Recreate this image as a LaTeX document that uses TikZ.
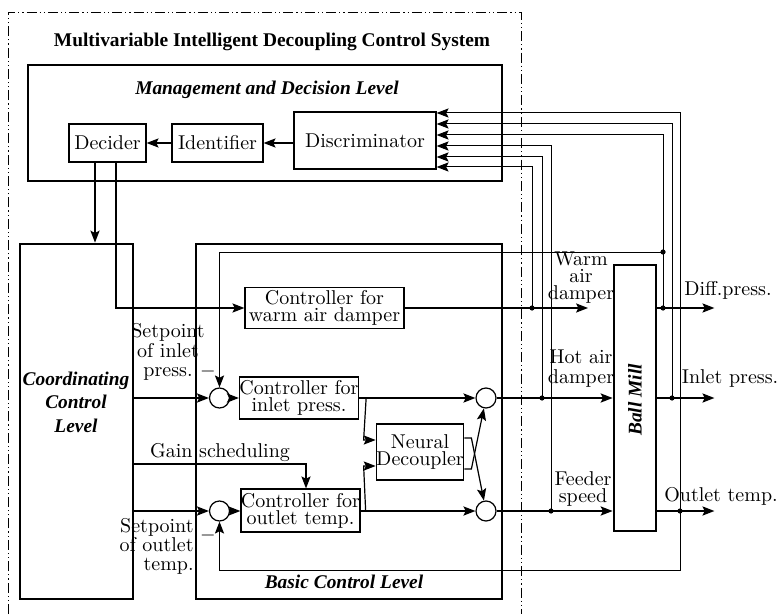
\documentclass[tikz,border=0pt]{standalone}
\usepackage{fontspec}
\newfontfamily\lvlfont{Liberation Serif}
\usetikzlibrary{positioning, arrows.meta, calc}
\setlength{\lineskiplimit}{-10pt}

\begin{document}
\begin{tikzpicture}[
  x=0.5pt, y=-0.5pt,
  font=\fontsize{10}{8.5}\selectfont,
  >={Stealth[length=6pt, width=4.6pt, inset=1.2pt]},
  box/.style={draw, line width=0.6pt, align=center, inner sep=0pt},
  level/.style={draw, line width=1.4pt, inner sep=0pt},
  titletext/.style={font=\lvlfont\fontsize{9.7}{11.75}\selectfont\bfseries, inner sep=0pt},
  lvltext/.style={font=\lvlfont\fontsize{9.7}{11.75}\selectfont\bfseries\itshape, align=center, inner sep=0pt},
  sum/.style={circle, draw, line width=0.6pt, minimum size=10pt, inner sep=0pt},
  dot/.style={circle, fill, inner sep=0pt, minimum size=2.6pt},
  flow/.style={->, line width=0.8pt},
  thin/.style={->, line width=0.6pt},
  fb/.style={line width=0.5pt},
  lab/.style={align=center, inner sep=0pt},
]
\useasboundingbox (0,0) rectangle (779,614);

% ================= system frame =================
\draw[line width=0.4pt, dash pattern=on 5pt off 1.5pt on 0.6pt off 1.5pt on 0.6pt off 1.5pt]
  (8,614) |- (521,12) -- (521,614);
\node[titletext] (title) at (272,42) {Multivariable Intelligent Decoupling Control System};

% ================= management and decision level =================
\node[level, minimum width=237pt, minimum height=58pt] (mdl) at (265,123) {};
\node[lvltext] (mdltext) at (267,90) {Management and Decision Level};
\node[box, minimum width=38.5pt, minimum height=19pt] (dec) at (107.5,143) {Decider};
\node[box, minimum width=45.5pt, minimum height=19pt] (idf) at (217.5,143) {Identifier};
\node[box, minimum width=71pt, minimum height=28.5pt] (disc) at (365,140.5) {Discriminator};

\draw[thin] (disc.west |- idf) -- (idf);
\draw[thin] (idf) -- (dec);

% ================= coordinating and basic control levels =================
\node[level, minimum width=56.5pt, minimum height=177.5pt] (ccl) at (76.5,421.5) {};
\node[lvltext] (ccltext) at (76,402) {Coordinating\\Control\\Level};
\node[level, minimum width=153pt, minimum height=177.5pt] (bcl) at (349,421.5) {};
\node[lvltext] (bcltext) at (344,582) {Basic Control Level};

\node[box, minimum width=79.5pt, minimum height=20.5pt] (cwarm) at (324.5,308) {Controller for\\warm air damper};
\node[sum] (s1) at (219.5,398) {};
\node[box, minimum width=54pt, minimum height=21pt] (cin) at (299,398) {Controller for\\inlet press.};
\node[sum] (s2) at (219.5,511) {};
\node[box, minimum width=52.5pt, minimum height=21.5pt] (cout) at (300.5,510.5) {Controller for\\outlet temp.};
\node[box, minimum width=40pt, minimum height=28pt] (nd) at (420,452) {Neural\\Decoupler};
\node[sum] (s3) at (486,398) {};
\node[sum] (s4) at (486,511) {};

\node[lab, font=\fontsize{10}{9.75}\selectfont] (spin) at (168,352) {Setpoint\\of inlet\\press.};
\node[lab, font=\fontsize{10}{9.5}\selectfont, align=right, anchor=east] (spout) at (194,546) {Setpoint\\of outlet\\temp.};
\node[lab] (m1) at (208,371) {$-$};
\node[lab] (m2) at (208,535) {$-$};
\node[lab] (gain) at (220,453) {Gain scheduling};

% ================= ball mill =================
\node[level, minimum width=21pt, minimum height=133pt] (mill) at (635,398) {};
\node[lvltext, rotate=90] (milltext) at (635,400) {Ball Mill};

% decider commands
\draw[thin] ([xshift=-6.25pt]dec.south) -- ([xshift=-6.25pt]dec.south |- ccl.north);
\draw[thin] ([xshift=4.25pt]dec.south) |- (cwarm.west);

% setpoints and main loops
\draw[flow] (ccl.east |- s1) -- (s1);
\draw[flow] (s1) -- (s1 -| cin.west);
\draw[flow] (cin.east |- s3) -- (s3);
\draw[flow] (s3) -- (s3 -| mill.west);
\draw[flow] (ccl.east |- s2) -- (s2);
\draw[flow] (s2) -- (s2 -| cout.west);
\draw[flow] (cout.east |- s4) -- (s4);
\draw[thin] ([yshift=-21.25pt]ccl.east) -| ([xshift=2.75pt]cout.north);

% decoupling paths
\draw[thin] ([xshift=3.5pt]cin.east) -- ([xshift=-6pt, yshift=6pt]nd.west) -- ([yshift=6pt]nd.west);
\draw[thin] ([xshift=2.5pt, yshift=-0.25pt]cout.east) -- ([xshift=-6pt, yshift=-7pt]nd.west) -- ([yshift=-7pt]nd.west);
\draw[thin] ([yshift=7pt]nd.east) -- ++(7,0) -- (s4);
\draw[thin] ([yshift=-8.5pt]nd.east) -- ++(7,0) -- (s3);

\draw[flow] (s4) -- (s4 -| mill.west);
\coordinate (wend) at (588,308);
\draw[thin] (cwarm.east) -- (wend);

\node[lab] (warmlab) at (581,278) {Warm\\air\\damper};
\node[lab, font=\fontsize{10}{10}\selectfont] (hotlab) at (581,369) {Hot air\\damper};
\node[lab] (feedlab) at (583,489) {Feeder\\speed};

% measured outputs
\node[dot] (jw) at (532,308) {};
\node[dot] (jh) at (542,398) {};
\node[dot] (jf) at (551,511) {};
\node[dot] (jd) at (663,308) {};
\node[dot] (ji) at (672,398) {};
\node[dot] (jo) at (680,511) {};
\node[dot] (jt) at (663,252) {};

\draw[flow] (mill.east |- jd) -- ++(57,0);
\draw[flow] (mill.east |- ji) -- ++(57,0);
\draw[flow] (mill.east |- jo) -- ++(57,0);
\node[lab] (difflab) at (728,290) {Diff.press.};
\node[lab] (inlab) at (730,378) {Inlet press.};
\node[lab] (outlab) at (721,496) {Outlet temp.};

% feedback to the discriminator
\foreach \j/\s in {jw/-13.25, jh/-8.25, jf/-2.75, jd/2.75, ji/8.25, jo/13.75}
  \draw[fb, ->] (\j.center) |- ([yshift=\s pt]disc.east);

% feedback to the summing points
\coordinate (fbo) at (680,570);
\draw[fb, ->] (jt.center) -| (s1);
\draw[fb, ->] (jo.center) -- (fbo) -| (s2);

\end{tikzpicture}
\end{document}
